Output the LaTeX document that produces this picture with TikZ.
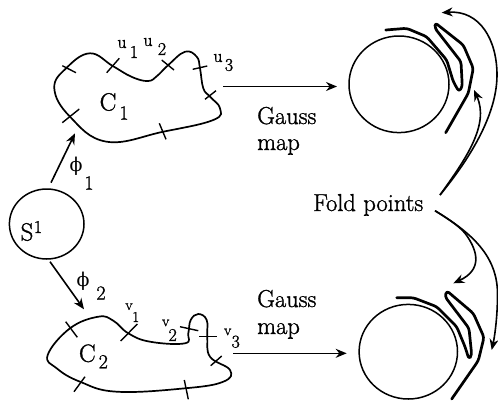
\documentclass[tikz,border=0pt]{standalone}
\usepackage{fontspec}
\usetikzlibrary{arrows.meta}
\newfontfamily\labfont{Latin Modern Roman}[FakeBold=1.2]
\newfontfamily\grfont{DejaVu Serif}
\tikzset{
 curve/.style={line width=1.7pt,line join=round,line cap=round},
 tick/.style={line width=1.4pt},
 ring/.style={line width=1.5pt},
 fold/.style={line width=2.7pt,line join=round,line cap=round,rounded corners=3pt},
 arr/.style={line width=1.6pt,-{Stealth[length=11pt,width=9pt]}},
 bigt/.style={inner sep=0pt,font=\labfont\fontsize{25}{25}\selectfont},
 midt/.style={inner sep=0pt,anchor=base west,text height=11pt,text depth=2pt,font=\labfont\fontsize{24.5}{24.5}\selectfont},
 numt/.style={inner sep=0pt,font=\labfont\fontsize{20}{20}\selectfont},
 subt/.style={inner sep=0pt,font=\labfont\fontsize{18}{18}\selectfont},
 smt/.style={inner sep=0pt,font=\labfont\fontsize{15}{15}\selectfont},
 grt/.style={inner sep=0pt,font=\grfont\fontsize{19}{19}\selectfont},
}
\begin{document}
\begin{tikzpicture}[x=1pt,y=-1pt]
\useasboundingbox (0,0) rectangle (498,400);
% circles
\draw[ring] (46.7,224) ellipse [x radius=37.3,y radius=35];
\draw[ring] (399,84.3) ellipse [x radius=50,y radius=48.3];
\draw[ring] (408.3,351.7) ellipse [x radius=49.2,y radius=47.3];
% curve C1
\draw[curve] plot[smooth cycle,tension=0.7] coordinates {(54.3,88.3) (66.7,67.7) (90,53.3) (112.7,66) (132,77) (148,81) (157,76) (168.3,65) (185,51.7) (196.7,56.7) (200,68.3) (203.3,88.3) (210,96.7) (220,108.3) (213.3,120) (163.3,131.7) (106.7,141.7) (70,116.7)};
\foreach \xa/\ya/\xb/\yb in {62.3/65.7/76/72.7,106.7/72.7/119.3/58.3,161.7/60/174/70,192.7/69.3/207.3/66,205/99.3/216/90.7,159.3/123.3/166/139.3,62.3/122.7/79.3/109}
  \draw[tick] (\xa,\ya) -- (\xb,\yb);
% curve C2
\draw[curve] plot[smooth cycle,tension=0.7] coordinates {(47.7,355) (70,328.3) (98.3,316.7) (113.3,320.7) (128.3,333.3) (150,341.7) (185,343.3) (188.3,333.3) (190.7,320) (198.3,314) (206.7,320) (207.3,336.7) (210,356.7) (230,370) (223.3,381.7) (185,388.3) (116.7,391.7) (80,381.7) (56.7,368.3)};
\foreach \xa/\ya/\xb/\yb in {65.7/321.7/77.3/337.3,120.7/341/137.3/324,180/326.7/198.3/330.7,199/336.7/216.7/336.7,210.7/365.7/221.7/356,184.3/380/188.3/399.3,74/391.7/85/376.7}
  \draw[tick] (\xa,\ya) -- (\xb,\yb);
% fold images
\draw[fold] (385.7,30) -- (406.7,28.3) -- (426.7,36.7) -- (446.7,60) -- (453.3,81.7) -- (459,91.7) -- (462.3,86.7) -- (461,61.7) -- (435,28.3) -- (435,22.7) -- (463.3,45) -- (473.3,68.3) -- (468.3,93.3) -- (445.7,132.7);
\draw[fold] (396.7,297.7) -- (413.3,297.7) -- (436.7,306.7) -- (456.7,326.7) -- (465,346.7) -- (469,359.3) -- (471.7,355) -- (469,328.3) -- (445,296.7) -- (446.7,290.7) -- (473.3,313.3) -- (484,337.3) -- (478.3,360.7) -- (451.7,399);
% coordinates
\coordinate (a1s) at (51,182.7); \coordinate (a1e) at (75,133.3);
\coordinate (a2s) at (50,261.7); \coordinate (a2e) at (84,309.3);
\coordinate (g1s) at (223,86.5); \coordinate (g1e) at (337,86.5);
\coordinate (g2s) at (233.3,353.3); \coordinate (g2e) at (346.7,353.3);
\coordinate (ft) at (440,195); \coordinate (fb) at (435,210.7);
\coordinate (t1) at (441.7,12.7); \coordinate (t2) at (474,90);
\coordinate (b1) at (453.3,283.3); \coordinate (b2) at (491.7,350);
\draw[arr] (a1s) -- (a1e);
\draw[arr] (a2s) -- (a2e);
\draw[arr] (g1s) -- (g1e);
\draw[arr] (g2s) -- (g2e);
\draw[arr] (ft) .. controls (462,168) and (497,120) .. (497,75) .. controls (497,40) and (480,10) .. (t1);
\draw[arr] (ft) .. controls (465,160) and (490,125) .. (t2);
\draw[arr] (fb) .. controls (450,220) and (462,228) .. (467,236) .. controls (478,252) and (482,270) .. (b1);
\draw[arr] (fb) .. controls (470,232) and (498,255) .. (497.5,295) .. controls (497.5,315) and (495,335) .. (b2);
% text
\node[bigt] (c1) at (108,102) {C};
\node[numt] (c1s) at (124,113) {1};
\node[bigt] (c2) at (87.3,353.3) {C};
\node[numt] (c2s) at (103.3,361.7) {2};
\node[bigt] (s) at (27,232) {S};
\node[subt] (ss) at (38,227) {1};
\node[grt] (p1) at (76,166) {ϕ};
\node[numt] (p1s) at (89,183) {1};
\node[grt] (p2) at (83,281.7) {ϕ};
\node[numt] (p2s) at (101,293) {2};
\node[subt] (u1) at (122,44) {u};
\node[subt] (u1s) at (134,52) {1};
\node[subt] (u2) at (148,42) {u};
\node[subt] (u2s) at (162,49) {2};
\node[subt] (u3) at (218,58) {u};
\node[subt] (u3s) at (229,65) {3};
\node[smt] (v1) at (129,306.7) {v};
\node[smt] (v1s) at (135.7,317) {1};
\node[smt] (v2) at (165.7,323) {v};
\node[subt] (v2s) at (172.7,335) {2};
\node[smt] (v3) at (227.7,332) {v};
\node[subt] (v3s) at (235.7,341.7) {3};
\node[midt] (g1) at (257,124) {Gauss};
\node[midt] (m1) at (257,150) {map};
\node[midt] (g2) at (257,307) {Gauss};
\node[midt] (m2) at (257,334) {map};
\node[midt] (fp) at (313,211) {Fold points};
\end{tikzpicture}
\end{document}
